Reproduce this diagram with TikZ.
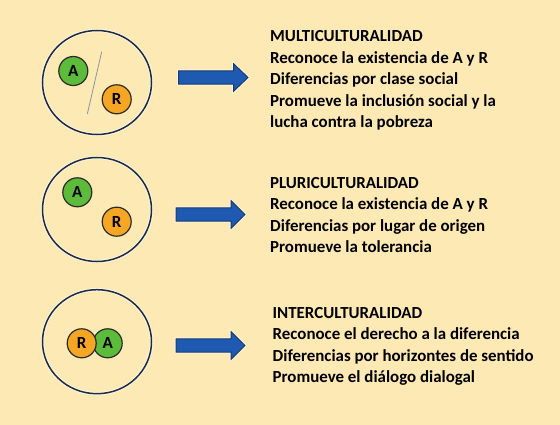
\documentclass[tikz,border=0pt]{standalone}
\usepackage{fontspec}
\setmainfont{Carlito}
\usetikzlibrary{shapes.geometric}
\definecolor{bg}{HTML}{FCE9B3}
\definecolor{ring}{HTML}{1E2B45}
\definecolor{gfill}{HTML}{5CBB3A}
\definecolor{ofill}{HTML}{F5A623}
\definecolor{dotline}{HTML}{2A2A2A}
\definecolor{arrfill}{HTML}{1F5AB2}
\definecolor{arrline}{HTML}{1A3A6E}
\definecolor{divline}{HTML}{8A96A6}
\tikzset{
  bigring/.style={ellipse, draw=ring, line width=1.5pt, minimum width=109pt, minimum height=104pt, inner sep=0pt,
    preaction={draw=white, line width=3.5pt, opacity=0.55}},
  adot/.style={circle, fill=gfill, draw=dotline, line width=1.2pt, minimum size=29pt, inner sep=0pt, font=\bfseries\fontsize{17}{17}\selectfont},
  rdot/.style={circle, fill=ofill, draw=dotline, line width=1.2pt, minimum size=29pt, inner sep=0pt, font=\bfseries\fontsize{17}{17}\selectfont},
  blockarrow/.style={fill=arrfill, draw=arrline, line width=1pt, line join=miter,
    preaction={draw=white, line width=3pt, opacity=0.5}},
  info/.style={anchor=north west, inner sep=0pt, align=left, font=\bfseries\fontsize{16.9}{21.5}\selectfont, text=black}
}
\begin{document}
\begin{tikzpicture}[x=1pt,y=-1pt]
\fill[bg] (0,0) rectangle (560,425);
\useasboundingbox (0,0) rectangle (560,425);

% Row 1
\node[bigring] (c1) at (97,82.5) {};
\coordinate (l1a) at (101.7,51.7);
\coordinate (l1b) at (87.3,114);
\draw[divline, line width=0.8pt] (l1a) -- (l1b);
\node[adot] (a1) at (73.3,71) {A};
\node[rdot] (r1) at (116.7,99.3) {R};
\draw[blockarrow] (178.5,70.8) -- (233.5,70.8) -- (233.5,63.7) -- (248,77.5) -- (233.5,91.3) -- (233.5,84.2) -- (178.5,84.2) -- cycle;
\node[info] (t1) at (270,30.5) {MULTICULTURALIDAD\\Reconoce la existencia de A y R\\Diferencias por clase social\\Promueve la inclusión social y la\\lucha contra la pobreza};

% Row 2
\node[bigring] (c2) at (97,209.5) {};
\node[adot] (a2) at (77.3,192.3) {A};
\node[rdot] (r2) at (116.7,221.7) {R};
\draw[blockarrow] (176,207.8) -- (231,207.8) -- (231,200.7) -- (245,214.5) -- (231,228.3) -- (231,221.2) -- (176,221.2) -- cycle;
\node[info] (t2) at (270,176.8) {PLURICULTURALIDAD\\Reconoce la existencia de A y R\\Diferencias por lugar de origen\\Promueve la tolerancia};

% Row 3
\node[bigring] (c3) at (97,341.7) {};
\node[adot] (a3) at (107.7,343.3) {A};
\node[rdot] (r3) at (81.7,343.3) {R};
\draw[blockarrow] (176,338.8) -- (231,338.8) -- (231,331.7) -- (245,345.5) -- (231,359.3) -- (231,352.2) -- (176,352.2) -- cycle;
\node[info] (t3) at (272.5,307.2) {INTERCULTURALIDAD\\Reconoce el derecho a la diferencia\\Diferencias por horizontes de sentido\\Promueve el diálogo dialogal};
\end{tikzpicture}
\end{document}
